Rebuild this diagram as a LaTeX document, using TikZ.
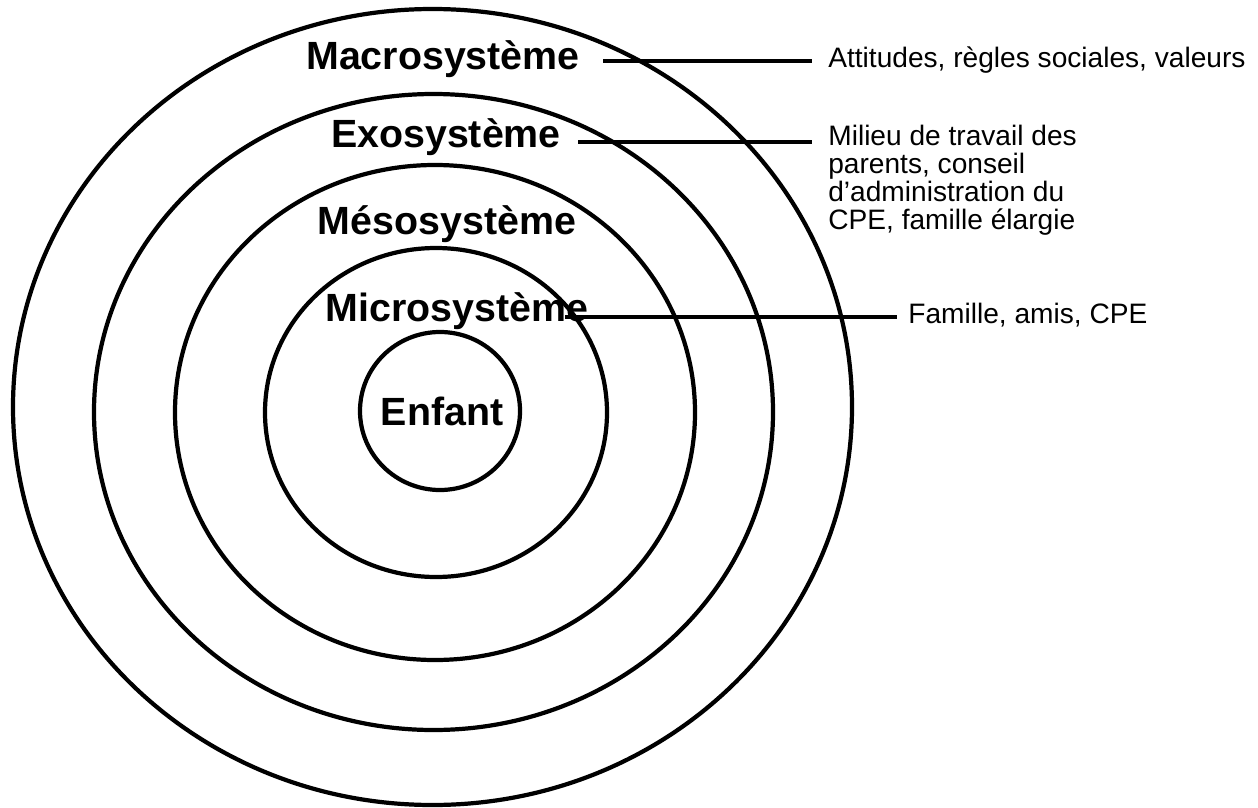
\documentclass[tikz,border=0pt]{standalone}
\usepackage{fontspec}
\setmainfont{Liberation Sans}
\usepackage{tikz}
\usetikzlibrary{calc}

\begin{document}
\begin{tikzpicture}[x=0.02cm, y=-0.02cm,
  ring/.style={line width=2.4pt},
  link/.style={line width=2.2pt},
  level/.style={font=\fontsize{22.4}{26}\selectfont\bfseries, inner sep=0pt, anchor=base},
  note/.style={font=\fontsize{16}{15.9}\selectfont, inner xsep=0.32cm, inner ysep=0pt, align=left}]
  \useasboundingbox (0,0) rectangle (1258,808);
  % the nested systems
  \draw[ring] (432.5,407) ellipse [x radius=419.5, y radius=398];
  \draw[ring] (433.5,412) ellipse [x radius=339.5, y radius=318];
  \draw[ring] (435,412.5) ellipse [x radius=260, y radius=247.5];
  \draw[ring] (436,412.5) ellipse [x radius=171, y radius=164.5];
  \draw[ring] (440,411) ellipse [x radius=80, y radius=79];
  % level names
  \node[level] (macro) at (443,70) {Macrosystème};
  \node[level] (exo) at (446,147) {Exosystème};
  \node[level] (meso) at (447,234) {Mésosystème};
  \node[level] (micro) at (457,321) {Microsystème};
  \node[level] (enfant) at (442,425) {Enfant};
  % examples on the right
  \node[note, anchor=base west] (attitudes) at (812,67) {Attitudes, règles sociales, valeurs};
  \node[note, anchor=north west] (milieu) at (812,125) {Milieu de travail des\\parents, conseil\\d’administration du\\CPE, famille élargie};
  \node[note, anchor=base west, inner xsep=0.22cm] (famille) at (897,323) {Famille, amis, CPE};
  \coordinate (macroL) at (603,61);
  \coordinate (exoL) at (578,142);
  \coordinate (microL) at (565,317);
  \draw[link] (macroL) -- (macroL -| attitudes.west);
  \draw[link] (exoL) -- (exoL -| milieu.west);
  \draw[link] (microL) -- (microL -| famille.west);
\end{tikzpicture}
\end{document}
